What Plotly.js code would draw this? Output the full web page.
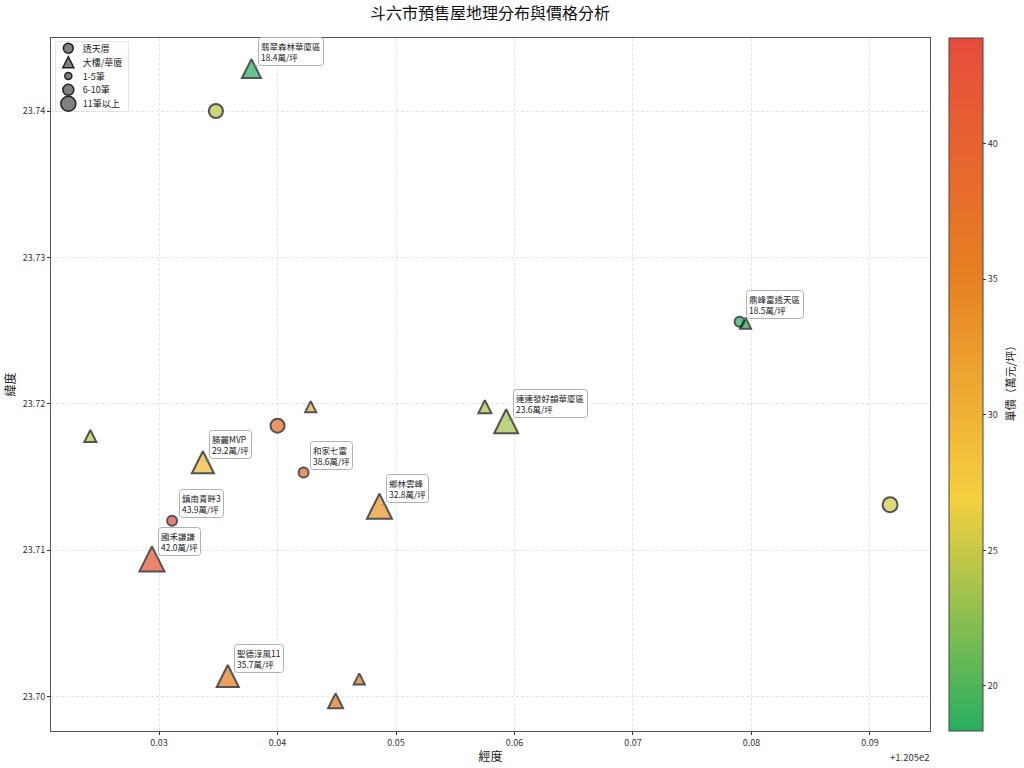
<!DOCTYPE html>
<html><head><meta charset="utf-8">
<script src="https://cdn.plot.ly/plotly-3.0.1.min.js"></script>
<style>html,body{margin:0;padding:0;background:#fff}</style></head>
<body><div id="chart" style="width:1024px;height:768px"></div>
<script>
const FONT = '"Noto Sans CJK TC","Noto Sans CJK JP",sans-serif';
// 透天厝 (circles)
const houseLon   = [120.5348,120.5790,120.5400,120.5422,120.5311,120.5917];
const houseLat   = [23.7400,23.7256,23.7185,23.7153,23.7120,23.7131];
const housePrice = [24.6,18.5,38.0,38.6,43.9,25.6];
const houseSize  = [14,10,14,10,10,15];
// 大樓/華廈 (triangles)
const towerLon   = [120.5378,120.5795,120.5428,120.5575,120.5242,120.5593,120.5337,120.5486,120.5294,120.5358,120.5449,120.5469];
const towerLat   = [23.7429,23.7255,23.7198,23.7198,23.7178,23.7188,23.7160,23.7130,23.7094,23.7014,23.6997,23.7012];
const towerPrice = [18.4,18.6,30.5,24.0,24.0,23.6,29.2,32.8,42.0,35.7,36.5,36.0];
const towerSize  = [19,11,11,13,12,24,22,25,25,22,15,11];
// labels
const labelNames = ['翡翠森林華廈區','鼎峰富透天區','連連發好韻華廈區','勝麗MVP','和家七富','鄉林雲峰','鎮南青畔3','國禾謙謙','聖德淳風11'];
const labelPrice = [18.4,18.5,23.6,29.2,38.6,32.8,43.9,42.0,35.7];
const labelLon   = [120.5378,120.5790,120.5593,120.5337,120.5422,120.5486,120.5311,120.5294,120.5358];
const labelLat   = [23.7429,23.7256,23.7188,23.7160,23.7153,23.7130,23.7120,23.7094,23.7014];
// axes
const xTickVals = [120.53,120.54,120.55,120.56,120.57,120.58,120.59];
const xTickText = ['0.03','0.04','0.05','0.06','0.07','0.08','0.09'];
const yTickVals = [23.70,23.71,23.72,23.73,23.74];
const yTickText = ['23.70','23.71','23.72','23.73','23.74'];
const colorStops = [[0,'#27ae60'],[1/3,'#f4d03f'],[2/3,'#e67e22'],[1,'#e74c3c']];
const legendNames = ['透天厝','大樓/華廈','1-5筆','6-10筆','11筆以上'];
const legendSymbols = ['circle','triangle-up','circle','circle','circle'];
const legendSizes = [10,11,7,11,15];
const LEGEND_SCALE = 0.72;

const EDGE = '#111111';
const traces = [
 {type:'scatter',mode:'markers',x:houseLon,y:houseLat,showlegend:false,hoverinfo:'skip',
  marker:{symbol:'circle',size:houseSize,color:housePrice,coloraxis:'coloraxis',opacity:0.72,line:{color:EDGE,width:2}}},
 {type:'scatter',mode:'markers',x:towerLon,y:towerLat,showlegend:false,hoverinfo:'skip',
  marker:{symbol:'triangle-up',size:towerSize,color:towerPrice,coloraxis:'coloraxis',opacity:0.72,line:{color:EDGE,width:2}}}
];
legendNames.forEach((n,i)=>traces.push({type:'scatter',mode:'markers',x:[null],y:[null],name:n,showlegend:true,
  marker:{symbol:legendSymbols[i],size:Math.min(legendSizes[i]/LEGEND_SCALE,16),color:'#808080',line:{color:'#222222',width:1.5/LEGEND_SCALE}}}));

const annotations = labelNames.map((n,i)=>({
  x:labelLon[i],y:labelLat[i],xref:'x',yref:'y',
  text:n+'<br>'+labelPrice[i].toFixed(1)+'萬/坪',align:'left',
  showarrow:true,arrowhead:0,arrowwidth:0.8,arrowcolor:'#888888',standoff:2,
  ax:6.5,ay:-3,xanchor:'left',yanchor:'bottom',
  bgcolor:'rgba(255,255,255,0.9)',bordercolor:'#b0b0b0',borderwidth:1,borderpad:2,
  font:{family:FONT,size:8.5,color:'#222222'}
}));
annotations.push({xref:'paper',yref:'paper',x:1,y:-26/693,xanchor:'right',yanchor:'middle',showarrow:false,xshift:2,
  text:'+1.205e2',font:{family:FONT,size:9.5,color:'#333'}});

const axisCommon = {showgrid:true,gridcolor:'rgba(0,0,0,0.10)',griddash:'3px,2px',gridwidth:0.8,zeroline:false,
  showline:true,mirror:true,linecolor:'#555555',linewidth:1,ticks:'outside',ticklen:3,tickcolor:'#333',
  tickfont:{family:FONT,size:9,color:'#333'},tickmode:'array'};

const layout = {
 width:1024,height:768,paper_bgcolor:'#fff',plot_bgcolor:'#fff',
 margin:{l:51,r:94,t:38,b:37,autoexpand:false},
 font:{family:FONT},
 title:{text:'斗六市預售屋地理分布與價格分析',x:490/1024,xanchor:'center',y:1-13/768,yanchor:'middle',font:{family:FONT,size:16,color:'#111'}},
 xaxis:Object.assign({},axisCommon,{range:[120.52088,120.59507],tickvals:xTickVals,ticktext:xTickText,
   title:{text:'經度',font:{family:FONT,size:12,color:'#222'},standoff:4}}),
 yaxis:Object.assign({},axisCommon,{range:[23.69764,23.74499],tickvals:yTickVals,ticktext:yTickText,
   title:{text:'緯度',font:{family:FONT,size:12,color:'#222'},standoff:4}}),
 coloraxis:{cmin:18.34,cmax:43.9,colorscale:colorStops,
   colorbar:{x:1.0216,xanchor:'left',xpad:0,ypad:0,y:0.5,yanchor:'middle',len:1,thickness:34,outlinecolor:'#444',outlinewidth:1,
     tickmode:'array',tickvals:[20,25,30,35,40],ticktext:['20','25','30','35','40'],ticks:'outside',ticklen:3,tickcolor:'#333',
     tickfont:{family:FONT,size:9,color:'#333'},
     title:{text:'單價（萬元/坪）',side:'right',font:{family:FONT,size:11,color:'#222'}}}},
 legend:{x:(55-51)/879,y:1-(41-38)/693,xanchor:'left',yanchor:'top',bgcolor:'rgba(255,255,255,0.8)',bordercolor:'#dddddd',borderwidth:1,
   font:{family:FONT,size:12.5,color:'#222'},itemsizing:'trace',tracegroupgap:0},
 annotations:annotations
};
const triPath = h=>`M${-h},${h}H${h}L0,${-h}Z`;
const circPath = r=>`M${r},0A${r},${r} 0 1,1 0,${-r}A${r},${r} 0 0,1 ${r},0Z`;
function polish(){
  document.querySelectorAll('.annotation-text-g rect.bg').forEach(r=>{r.setAttribute('rx',3);r.setAttribute('ry',3);});
  document.querySelectorAll('.scatterlayer .trace').forEach(t=>{
    const pts=t.querySelectorAll('path.point');
    if(pts.length===towerSize.length) pts.forEach((p,i)=>p.setAttribute('d',triPath(towerSize[i]/2)));
  });
  const lg=document.querySelector('.legend');
  if(lg){
    const tr=(lg.getAttribute('transform')||'').replace(/\s*scale\([^)]*\)/,'');
    lg.setAttribute('transform',tr+' scale('+LEGEND_SCALE+')');
    const bg=lg.querySelector('rect.bg');
    if(bg) bg.setAttribute('height',70/LEGEND_SCALE);
    const sb=lg.querySelector('.scrollbox');
    if(sb) sb.setAttribute('transform','translate(-2.5,-5.5)');
    lg.querySelectorAll('.traces').forEach((t,i)=>{
      const p=t.querySelector('path.scatterpts');
      if(!p) return;
      const s=legendSizes[i]/LEGEND_SCALE/2;
      p.setAttribute('d',legendSymbols[i]==='circle'?circPath(s):triPath(s));
    });
  }
  const cb=document.querySelector('.cbtitle');
  if(cb) cb.setAttribute('transform','translate(11,-4)');
}
const gd=document.getElementById('chart');
Plotly.newPlot(gd,traces,layout,{displayModeBar:false}).then(()=>{
  gd.on('plotly_afterplot',polish);
  polish();
  setTimeout(polish,50);setTimeout(polish,200);setTimeout(polish,500);
});
</script></body></html>
